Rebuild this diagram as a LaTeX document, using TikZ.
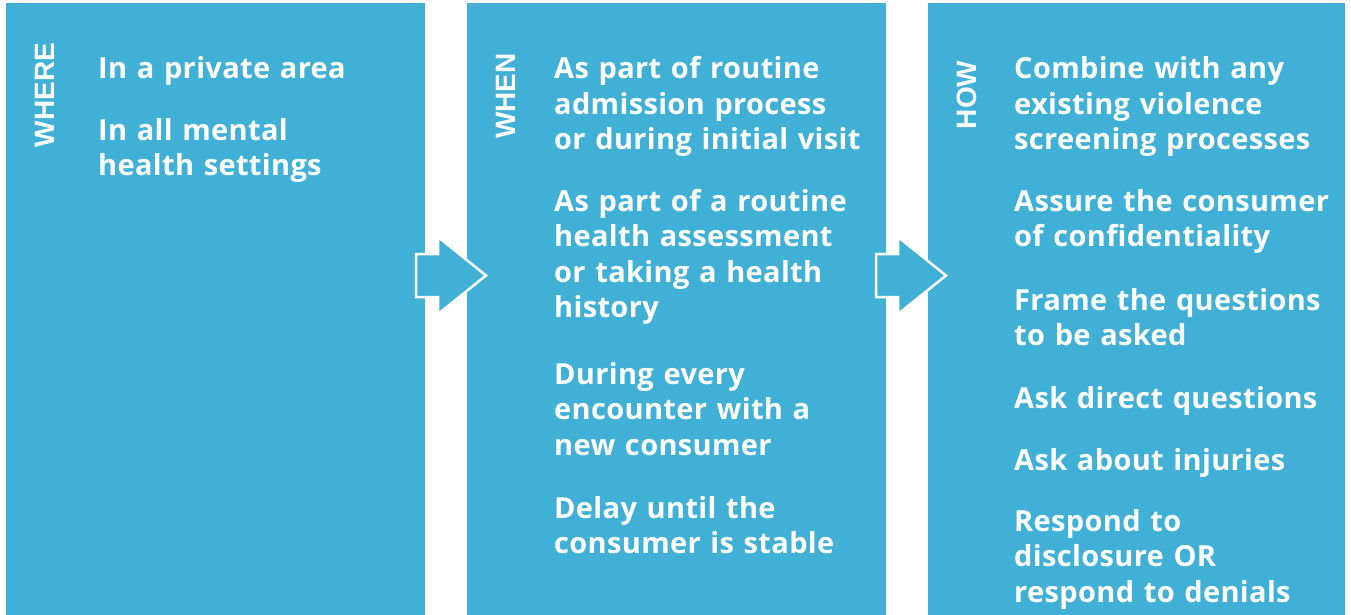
\documentclass[tikz,border=0pt]{standalone}
\usepackage{fontspec}
\setmainfont{Open Sans}[LetterSpace=1.2]
\newfontfamily\tagfont{Liberation Sans}
\definecolor{panelblue}{RGB}{64,176,214}
\begin{document}
\begin{tikzpicture}[x=1pt, y=-1pt,
  panel/.style={fill=panelblue, draw=none},
  flowarrow/.style={fill=panelblue, draw=white, line width=2.5pt, line join=miter},
  tag/.style={rotate=90, anchor=base, inner sep=0pt, text=white, font=\tagfont\bfseries\fontsize{28}{30}\selectfont},
  item/.style={anchor=base west, inner sep=0pt, text=white, text width=320pt, align=left, font=\bfseries\fontsize{29}{35.5}\selectfont}]
\useasboundingbox (0,0) rectangle (1351,615);
\fill[white] (0,0) rectangle (1351,615);

\path[panel] (6,3) rectangle (425,615);
\path[panel] (467,3) rectangle (886,615);
\path[panel] (928,3) rectangle (1345,615);

\foreach \dx in {0,460}
  \draw[flowarrow] (416+\dx,254) -- (438+\dx,254) -- (438+\dx,237) -- (486+\dx,275.5)
    -- (438+\dx,314) -- (438+\dx,297) -- (416+\dx,297) -- cycle;

\node[tag] (where) at (54,95) {WHERE};
\node[tag] (when) at (515,96) {WHEN};
\node[tag] (how) at (976,95) {HOW};

\node[item] (where1) at (98,79) {In a private area};
\node[item] (where2) at (98,140) {In all mental\\health settings};

\node[item] (when1) at (554,79) {As part of routine\\admission process\\or during initial visit};
\node[item] (when2) at (554,211) {As part of a routine\\health assessment\\or taking a health\\history};
\node[item] (when3) at (554,384) {During every\\encounter with a\\new consumer};
\node[item] (when4) at (554,518) {Delay until the\\consumer is stable};

\node[item] (how1) at (1014,79) {Combine with any\\existing violence\\screening processes};
\node[item] (how2) at (1014,211) {Assure the consumer\\of confidentiality};
\node[item] (how3) at (1014,310) {Frame the questions\\to be asked};
\node[item] (how4) at (1014,408) {Ask direct questions};
\node[item] (how5) at (1014,470) {Ask about injuries};
\node[item] (how6) at (1014,531) {Respond to\\disclosure OR\\respond to denials};
\end{tikzpicture}
\end{document}
